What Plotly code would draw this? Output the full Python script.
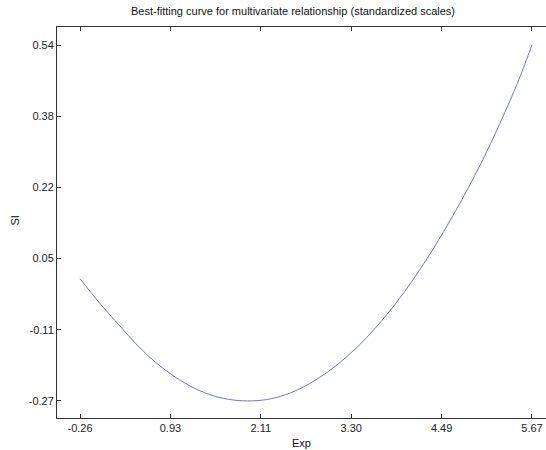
import plotly.graph_objects as go
import numpy as np

# Values
exp_vals = [-0.26, 0.0, 0.25, 0.5, 0.75, 1.0, 1.25, 1.5, 1.75, 2.0, 2.25, 2.5,
            2.75, 3.0, 3.25, 3.5, 3.75, 4.0, 4.25, 4.5, 4.75, 5.0, 5.25, 5.5, 5.67]
si_vals = [0.008, -0.048, -0.097, -0.145, -0.185, -0.217, -0.242, -0.259, -0.268,
           -0.270, -0.265, -0.252, -0.231, -0.203, -0.168, -0.126, -0.077, -0.021,
           0.042, 0.112, 0.188, 0.270, 0.362, 0.462, 0.540]

x_ticks = [-0.26, 0.926, 2.112, 3.298, 4.484, 5.67]
x_ticktext = ["-0.26", "0.93", "2.11", "3.30", "4.49", "5.67"]
y_ticks = [-0.27, -0.108, 0.054, 0.216, 0.378, 0.54]
y_ticktext = ["-0.27", "-0.11", "0.05", "0.22", "0.38", "0.54"]

title_text = "Best-fitting curve for multivariate relationship (standardized scales)"
x_label = "Exp"
y_label = "SI"

font_family = "Liberation Sans, Arial, sans-serif"

fig = go.Figure()
fig.add_trace(go.Scatter(x=exp_vals, y=si_vals, mode="lines",
                         line=dict(color="rgb(80,80,190)", width=0.8, shape="spline"),
                         showlegend=False, hoverinfo="skip"))

fig.update_layout(
    width=546, height=450,
    margin=dict(l=57, r=0, t=27, b=32),
    paper_bgcolor="white", plot_bgcolor="white",
    font=dict(family=font_family, size=11, color="#222"),
    xaxis=dict(range=[-0.562, 5.854], tickvals=x_ticks, ticktext=x_ticktext,
               ticks="inside", ticklen=4, tickcolor="#333", showgrid=False,
               zeroline=False, showline=True, linecolor="#333", linewidth=1,
               mirror="ticks", tickfont=dict(size=11, color="#222")),
    yaxis=dict(range=[-0.309, 0.581], tickvals=y_ticks, ticktext=y_ticktext,
               ticks="inside", ticklen=4, tickcolor="#333", showgrid=False,
               zeroline=False, showline=True, linecolor="#333", linewidth=1,
               mirror=False, tickfont=dict(size=11, color="#222")),
    annotations=[
        dict(text=title_text, xref="paper", yref="paper", x=0.482, y=1.0,
             yshift=16, showarrow=False, xanchor="center", yanchor="middle",
             font=dict(size=11, color="#111")),
        dict(text=x_label, xref="paper", yref="paper", x=0.501, y=0.0,
             yshift=-25, showarrow=False, xanchor="center", yanchor="middle",
             font=dict(size=11, color="#111")),
        dict(text=y_label, xref="paper", yref="paper", x=0.0, y=0.505,
             xshift=-42, showarrow=False, xanchor="center", yanchor="middle",
             textangle=-90, font=dict(size=11, color="#111")),
    ],
)

fig.write_html("out.html")
